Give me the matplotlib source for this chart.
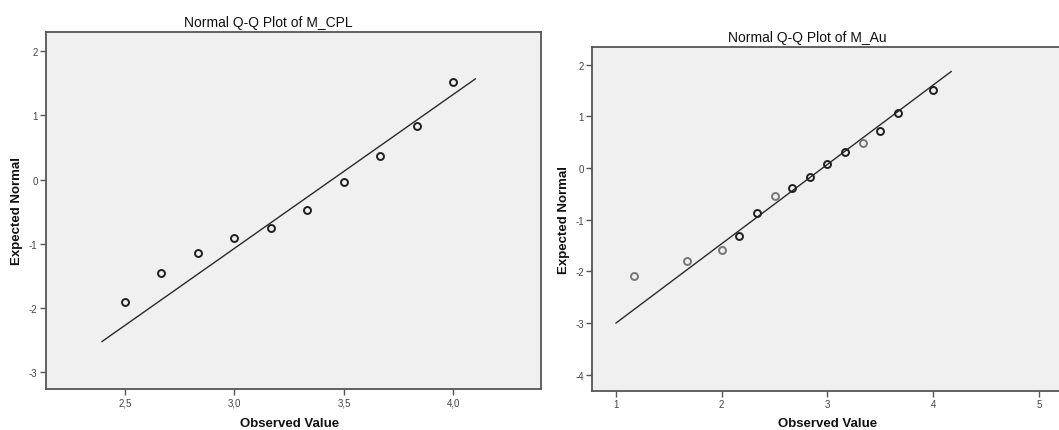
import matplotlib.pyplot as plt
import numpy as np

plt.rcParams['font.family'] = ['Liberation Sans', 'DejaVu Sans']
plt.rcParams['axes.unicode_minus'] = False

# left panel: M_CPL
cpl_obs = [2.5, 2.667, 2.833, 3.0, 3.167, 3.333, 3.5, 3.667, 3.833, 4.0]
cpl_exp = [-1.91, -1.46, -1.145, -0.91, -0.75, -0.47, -0.04, 0.37, 0.84, 1.52]
cpl_line_x = [2.396, 4.10]
cpl_line_y = [-2.52, 1.57]
cpl_xticks = [2.5, 3.0, 3.5, 4.0]
cpl_yticks = [-3, -2, -1, 0, 1, 2]

# right panel: M_Au
au_obs = [1.167, 1.667, 2.0, 2.167, 2.333, 2.5, 2.667, 2.833, 3.0, 3.167, 3.333, 3.5, 3.667, 4.0]
au_exp = [-2.08, -1.79, -1.59, -1.32, -0.87, -0.54, -0.39, -0.17, 0.08, 0.31, 0.48, 0.72, 1.06, 1.52]
au_single = [True, True, True, False, False, True, False, False, False, False, True, False, False, False]
au_line_x = [1.0, 4.17]
au_line_y = [-3.0, 1.87]
au_xticks = [1, 2, 3, 4, 5]
au_yticks = [-4, -3, -2, -1, 0, 1, 2]

fig = plt.figure(figsize=(10.59, 4.31), dpi=100)

def style(ax):
    ax.set_facecolor('#f0f0f0')
    for s in ax.spines.values():
        s.set_color('#555555')
        s.set_linewidth(1.3)
    ax.tick_params(direction='out', length=4, width=1, color='#555555',
                   labelsize=7, labelcolor='#444444', pad=2)

ax1 = fig.add_axes([0.0434, 0.0951, 0.4675, 0.8283])
style(ax1)
ax1.plot(cpl_line_x, cpl_line_y, color='#2a2a2a', lw=1)
ax1.plot(cpl_obs, cpl_exp, 'o', mfc='none', mec='#1f1f1f', mew=1.4, ms=5)
ax1.set_xlim(2.14, 4.40)
ax1.set_ylim(-3.26, 2.30)
ax1.set_xticks(cpl_xticks)
ax1.set_xticklabels([('%.1f' % v).replace('.', ',') for v in cpl_xticks])
ax1.set_yticks(cpl_yticks)
fig.text(17 / 1059, 1 - 211 / 431, 'Expected Normal', rotation=90, ha='center', va='center',
         fontsize=9.5, fontweight='bold', color='#111111')
fig.text(290 / 1059, 1 - 424 / 431, 'Observed Value', ha='center', va='center',
         fontsize=9.5, fontweight='bold', color='#111111')
fig.text(0.253, 0.947, 'Normal Q-Q Plot of M_CPL', ha='center', va='center', fontsize=10, color='#111111')

ax2 = fig.add_axes([0.5593, 0.0912, 0.4457, 0.7968])
style(ax2)
ax2.spines['right'].set_visible(False)
ax2.plot(au_line_x, au_line_y, color='#2a2a2a', lw=1)
for x, y, single in zip(au_obs, au_exp, au_single):
    ax2.plot(x, y, 'o', mfc='none', mec='#777777' if single else '#1f1f1f', mew=1.4, ms=5)
ax2.set_xlim(0.776, 5.24)
ax2.set_ylim(-4.31, 2.34)
ax2.set_xticks(au_xticks)
ax2.set_yticks(au_yticks)
fig.text(564 / 1059, 1 - 220 / 431, 'Expected Normal', rotation=90, ha='center', va='center',
         fontsize=9.5, fontweight='bold', color='#111111')
fig.text(828 / 1059, 1 - 424 / 431, 'Observed Value', ha='center', va='center',
         fontsize=9.5, fontweight='bold', color='#111111')
fig.text(0.762, 0.911, 'Normal Q-Q Plot of M_Au', ha='center', va='center', fontsize=10, color='#111111')

fig.savefig('out.png', dpi=100)
